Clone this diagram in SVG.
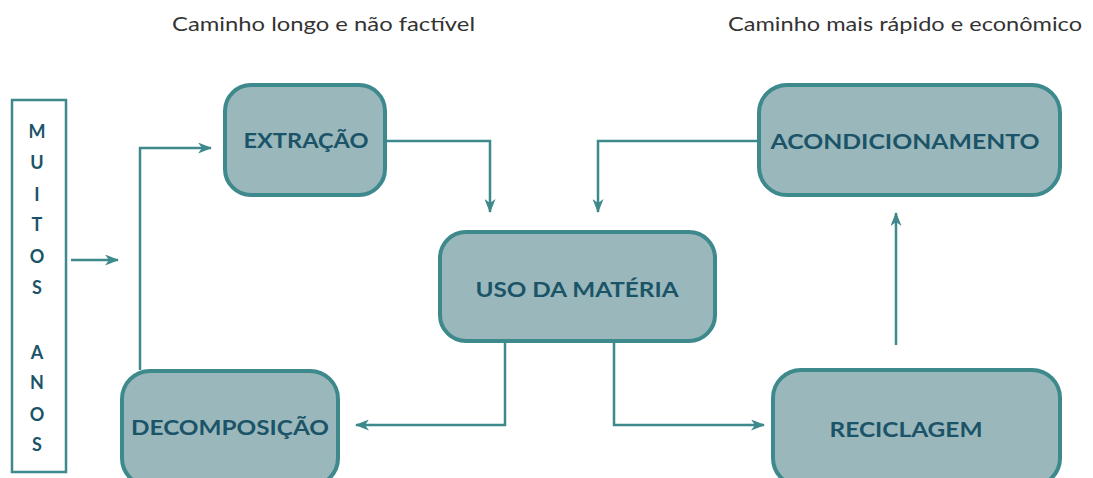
<svg xmlns="http://www.w3.org/2000/svg" width="1093" height="478" viewBox="0 0 1093 478">
<style>
.node rect{fill:#9ab8bb;stroke:#3d898c;stroke-width:4}
.node text{font-family:"Lato","Liberation Sans",sans-serif;font-weight:700;font-size:20px;fill:#1b5468;text-anchor:middle}
.conn path{fill:none;stroke:#3d898c;stroke-width:2.5}
.hdr{font-family:"Lato","Liberation Sans",sans-serif;font-size:19px;fill:#333}
.let{font-family:"Lato","Liberation Sans",sans-serif;font-size:18px;font-weight:700;fill:#1b5468;text-anchor:middle}
</style>
<defs>
<marker id="ah" viewBox="0 0 14 11" refX="13" refY="5.5" markerWidth="14" markerHeight="11" markerUnits="userSpaceOnUse" orient="auto">
<path d="M0,0 L14,5.5 L0,11 L4,5.5 z" fill="#3d898c"/>
</marker>
</defs>
<rect width="1093" height="478" fill="#fff"/>
<text class="hdr" x="172" y="31" textLength="303" lengthAdjust="spacingAndGlyphs">Caminho longo e não factível</text>
<text class="hdr" x="728" y="31" textLength="354" lengthAdjust="spacingAndGlyphs">Caminho mais rápido e econômico</text>

<g id="muitos-anos">
<rect x="12" y="100" width="54" height="372" fill="#fff" stroke="#3d898c" stroke-width="2.5"/>
<text class="let" x="37" y="138">M</text>
<text class="let" x="37" y="169">U</text>
<text class="let" x="37" y="201">I</text>
<text class="let" x="37" y="231">T</text>
<text class="let" x="37" y="263">O</text>
<text class="let" x="37" y="294">S</text>
<text class="let" x="37" y="359">A</text>
<text class="let" x="37" y="389">N</text>
<text class="let" x="37" y="421">O</text>
<text class="let" x="37" y="451">S</text>
</g>

<g class="conn" id="connectors">
<path d="M71,260 L118,260" marker-end="url(#ah)"/>
<path d="M140,370 L140,148 L211,148" marker-end="url(#ah)"/>
<path d="M387,141 L490,141 L490,212" marker-end="url(#ah)"/>
<path d="M757,141 L598,141 L598,212" marker-end="url(#ah)"/>
<path d="M896,345 L896,213" marker-end="url(#ah)"/>
<path d="M505,343 L505,425 L356,425" marker-end="url(#ah)"/>
<path d="M614,343 L614,425 L764,425" marker-end="url(#ah)"/>
</g>

<g class="node" id="extracao">
<rect x="225" y="85" width="160" height="110" rx="26"/>
<text x="306" y="148" textLength="125" lengthAdjust="spacingAndGlyphs">EXTRAÇÃO</text>
</g>
<g class="node" id="uso">
<rect x="440" y="232" width="275" height="109" rx="26"/>
<text x="577" y="297" textLength="203" lengthAdjust="spacingAndGlyphs">USO DA MATÉRIA</text>
</g>
<g class="node" id="acondicionamento">
<rect x="759" y="85" width="301" height="110" rx="28"/>
<text x="905" y="149" textLength="269" lengthAdjust="spacingAndGlyphs">ACONDICIONAMENTO</text>
</g>
<g class="node" id="decomposicao">
<rect x="122" y="371" width="216" height="115" rx="28"/>
<text x="230" y="435" textLength="198" lengthAdjust="spacingAndGlyphs">DECOMPOSIÇÃO</text>
</g>
<g class="node" id="reciclagem">
<rect x="773" y="370" width="287" height="116" rx="28"/>
<text x="906" y="437" textLength="153" lengthAdjust="spacingAndGlyphs">RECICLAGEM</text>
</g>
</svg>
